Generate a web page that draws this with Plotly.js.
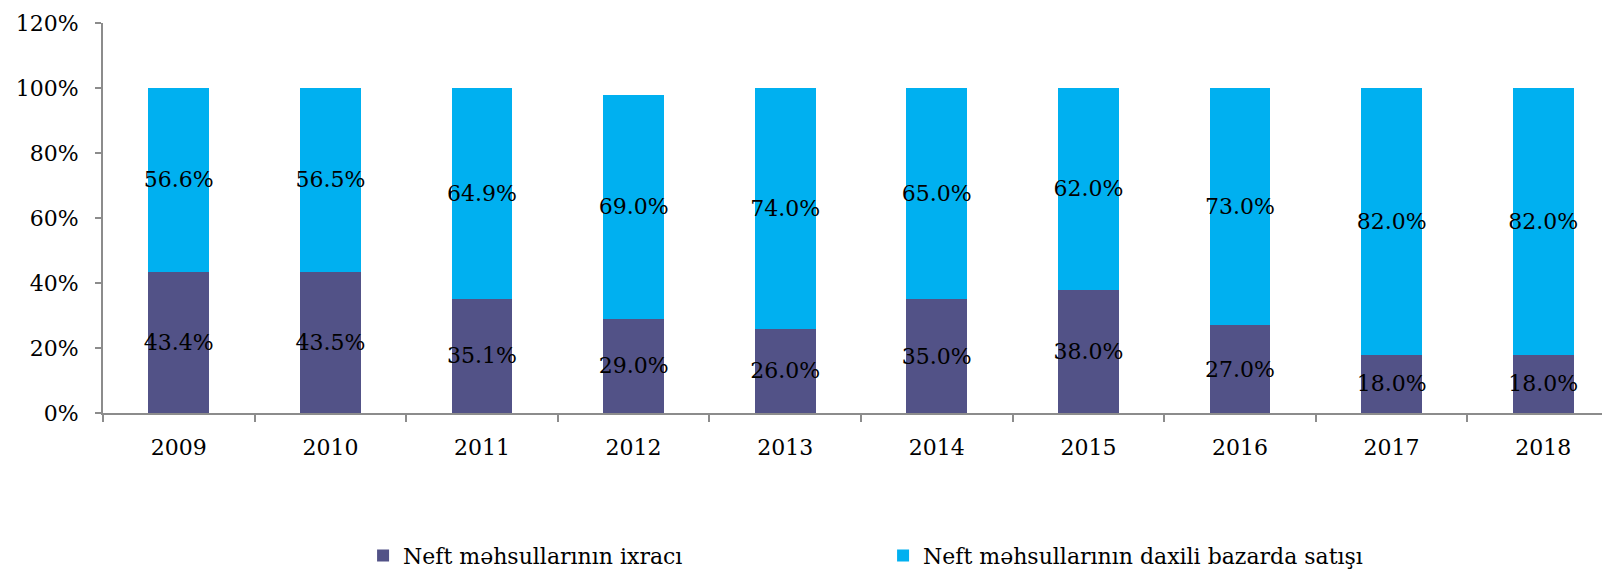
<!DOCTYPE html>
<html>
<head>
<meta charset="utf-8">
<script src="https://cdn.plot.ly/plotly-3.0.1.min.js"></script>
<style>html,body{margin:0;padding:0;background:#fff;}</style>
</head>
<body>
<div id="chart" style="width:1602px;height:570px;"></div>
<script>
const years = ["2009","2010","2011","2012","2013","2014","2015","2016","2017","2018"];
const exportShare = [43.4, 43.5, 35.1, 29.0, 26.0, 35.0, 38.0, 27.0, 18.0, 18.0];
const domesticShare = [56.6, 56.5, 64.9, 69.0, 74.0, 65.0, 62.0, 73.0, 82.0, 82.0];
const seriesNames = ["Neft məhsullarının ixracı", "Neft məhsullarının daxili bazarda satışı"];

const FONT = "'DejaVu Serif', 'Liberation Serif', serif";

function barTrace(vals, name, color) {
  return {
    type: 'bar', x: years, y: vals, name: name,
    marker: {color: color, line: {width: 0}},
    text: vals.map(v => v.toFixed(1) + '%'),
    textposition: 'inside', insidetextanchor: 'middle',
    textangle: 0, constraintext: 'none',
    insidetextfont: {family: FONT, size: 22, color: '#000'},
    hoverinfo: 'skip'
  };
}

const data = [
  barTrace(exportShare, seriesNames[0], '#525287'),
  barTrace(domesticShare, seriesNames[1], '#00B0F0')
];

const layout = {
  width: 1602, height: 570,
  margin: {l: 103, r: 0, t: 23, b: 157, autoexpand: false},
  paper_bgcolor: '#fff', plot_bgcolor: '#fff',
  barmode: 'stack', bargap: 0.6,
  font: {family: FONT, size: 22, color: '#000'},
  showlegend: true,
  legend: {
    orientation: 'h', x: 0.1735, xanchor: 'left', y: -0.366, yanchor: 'middle',
    font: {family: FONT, size: 22, color: '#000'},
    entrywidth: 475, entrywidthmode: 'pixels',
    traceorder: 'normal', bgcolor: 'rgba(0,0,0,0)'
  },
  xaxis: {
    type: 'category', range: [-0.5, 9.388], showgrid: false, zeroline: false,
    showline: true, linecolor: '#8c8c8c', linewidth: 2,
    ticks: 'outside', tickson: 'boundaries', ticklen: 7, tickcolor: '#8c8c8c', tickwidth: 2,
    ticklabelstandoff: 14,
    tickfont: {family: FONT, size: 22, color: '#000'}
  },
  yaxis: {
    range: [0, 120], dtick: 20, tick0: 0, ticksuffix: '%',
    showgrid: false, zeroline: false,
    showline: true, linecolor: '#8c8c8c', linewidth: 2,
    ticks: 'outside', ticklen: 6, tickcolor: '#8c8c8c', tickwidth: 2,
    ticklabelstandoff: 12,
    tickfont: {family: FONT, size: 22, color: '#000'}
  }
};

Plotly.newPlot('chart', data, layout, {displayModeBar: false, staticPlot: true});
</script>
</body>
</html>
